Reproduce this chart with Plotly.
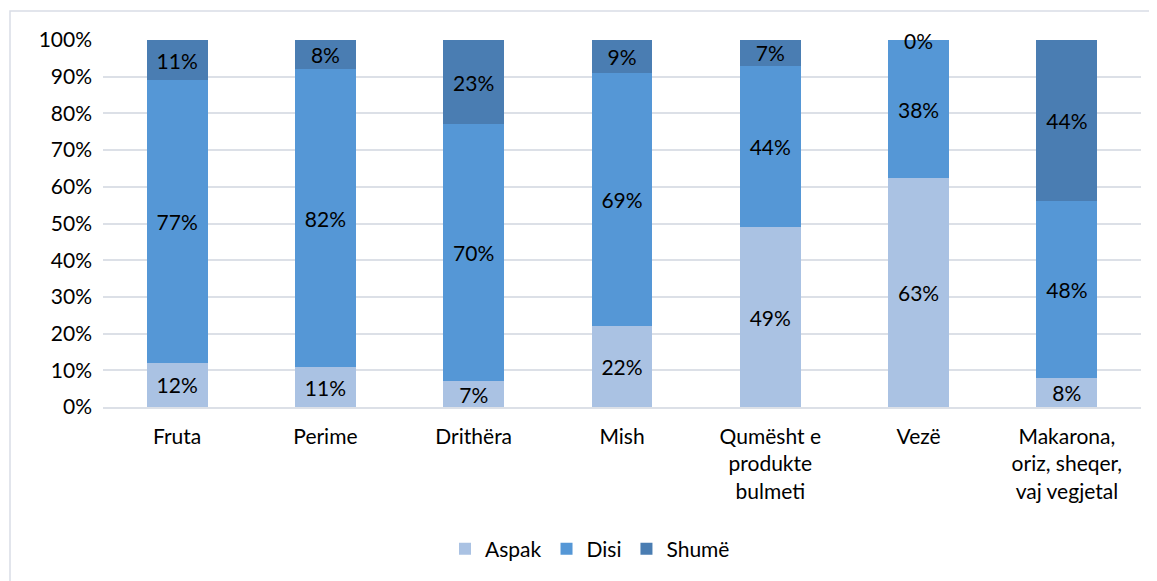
import plotly.graph_objects as go

categories = ["Fruta", "Perime", "Drithëra", "Mish", "Qumësht e<br>produkte<br>bulmeti", "Vezë", "Makarona,<br>oriz, sheqer,<br>vaj vegjetal"]
aspak = [12, 11, 7, 22, 49, 63, 8]
disi = [77, 82, 70, 69, 44, 38, 48]
shume = [11, 8, 23, 9, 7, 0, 44]
series_names = ["Aspak", "Disi", "Shumë"]
colors = ["#AAC2E3", "#5597D6", "#4A7DB2"]
tick_vals = [0, 10, 20, 30, 40, 50, 60, 70, 80, 90, 100]

font = "Lato, Calibri, Carlito, sans-serif"
FS = 21
W, H = 1149, 573
L, T = 95, 32
pw, ph = 1038, 367
R, B = W - L - pw, H - T - ph

fig = go.Figure()
all_series = [aspak, disi, shume]
for name, vals, col in zip(series_names, all_series, colors):
    fig.add_trace(go.Bar(
        x=categories, y=vals, name=name,
        marker=dict(color=col, line=dict(width=0)),
        text=[f"{v}%" for v in vals], textposition="inside",
        insidetextanchor="middle", textangle=0,
        textfont=dict(color="#000000", size=FS, family=font),
        constraintext="none",
    ))

# labels for zero-height segments (Excel still shows them)
annotations = []
for i, cat in enumerate(categories):
    total = sum(s[i] for s in all_series)
    cum = 0
    for s in all_series:
        cum += s[i]
        if s[i] == 0:
            annotations.append(dict(x=cat, y=cum / total * 100, text="0%", showarrow=False,
                                    font=dict(size=FS, family=font, color="#000000"),
                                    yanchor="middle"))

fig.update_layout(
    barmode="stack", barnorm="percent", bargap=0.59,
    width=W, height=H,
    margin=dict(l=L, r=R, t=T, b=B, autoexpand=False),
    plot_bgcolor="white", paper_bgcolor="white",
    font=dict(family=font, size=FS, color="#000000"),
    legend=dict(orientation="h", x=(590 - 8 - L) / pw, xanchor="center", y=-(142 / ph), yanchor="middle",
                font=dict(size=FS), traceorder="normal", itemwidth=30),
    showlegend=True,
    annotations=annotations,
    shapes=[dict(type="rect", xref="paper", yref="paper",
                 x0=(2 - L) / pw, x1=(W + 30 - L) / pw, y0=-(B + 30) / ph, y1=1 + (T - 3) / ph,
                 line=dict(color="#D9DDE6", width=1.5), fillcolor="rgba(0,0,0,0)", layer="below")],
)
fig.update_yaxes(range=[0, 100], tickvals=tick_vals, ticktext=[f"{v}%" for v in tick_vals],
                 showgrid=True, gridcolor="#DCE0E7", gridwidth=1.5, zeroline=False,
                 ticks="", tickfont=dict(size=FS), ticklabelstandoff=10, automargin=False)
fig.update_xaxes(showline=True, linecolor="#DCE0E7", linewidth=1.5, ticks="",
                 tickfont=dict(size=FS), ticklabelstandoff=10, automargin=False)

fig.write_html("out.html")
